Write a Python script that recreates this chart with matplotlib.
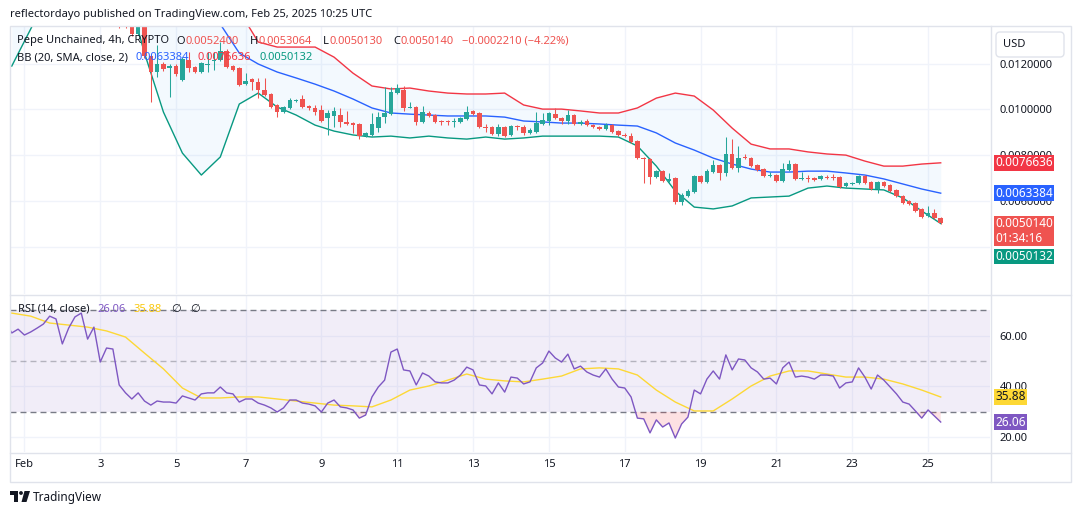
import numpy as np
import matplotlib
matplotlib.use("Agg")
import matplotlib.pyplot as plt
from matplotlib.patches import Rectangle, FancyBboxPatch, Circle, Polygon

plt.rcParams['font.family'] = ['Noto Sans', 'DejaVu Sans']

W, H = 1080, 515

# 4h bars, bar index 0 = Feb 1 00:00 UTC (TradingView bar index, one bar missing before Feb 7)
candle_start = 15
opens = [
    0.01399, 0.01372, 0.01372, 0.01329, 0.01359, 0.01233, 0.01163, 0.01198, 0.01180, 0.01189,
    0.01128, 0.01215, 0.01185, 0.01163, 0.01193, 0.01211, 0.01215, 0.01255, 0.01189, 0.01180,
    0.01110, 0.01132, 0.01119, 0.01084, 0.01067, 0.01019, 0.00988, 0.01006, 0.01036, 0.01045,
    0.01014, 0.01006, 0.00997, 0.00962, 0.00971, 0.00975, 0.00945, 0.00940, 0.00936, 0.00883,
    0.00888, 0.00918, 0.00966, 0.00979, 0.01071, 0.01084, 0.01006, 0.01010, 0.00945, 0.00984,
    0.00975, 0.00949, 0.00949, 0.00945, 0.00945, 0.00958, 0.00993, 0.00984, 0.00923, 0.00923,
    0.00892, 0.00923, 0.00888, 0.00927, 0.00923, 0.00897, 0.00901, 0.00936, 0.00949, 0.00979,
    0.00962, 0.00949, 0.00975, 0.00936, 0.00949, 0.00931, 0.00923, 0.00914, 0.00931, 0.00905,
    0.00888, 0.00883, 0.00862, 0.00787, 0.00783, 0.00704, 0.00730, 0.00687, 0.00700, 0.00595,
    0.00621, 0.00639, 0.00709, 0.00682, 0.00726, 0.00757, 0.00722, 0.00805, 0.00744, 0.00792,
    0.00787, 0.00757, 0.00739, 0.00709, 0.00713, 0.00687, 0.00735, 0.00761, 0.00696, 0.00700,
    0.00700, 0.00696, 0.00704, 0.00704, 0.00704, 0.00665, 0.00674, 0.00678, 0.00709, 0.00682,
    0.00652, 0.00682, 0.00669, 0.00648, 0.00621, 0.00600, 0.00591, 0.00565, 0.00534, 0.00547,
    0.0052400,
]
highs = [
    0.01425, 0.01390, 0.01390, 0.01372, 0.01368, 0.01237, 0.01281, 0.01207, 0.01198, 0.01198,
    0.01228, 0.01250, 0.01189, 0.01207, 0.01250, 0.01250, 0.01294, 0.01263, 0.01193, 0.01185,
    0.01158, 0.01137, 0.01137, 0.01137, 0.01071, 0.01023, 0.01014, 0.01049, 0.01045, 0.01062,
    0.01019, 0.01019, 0.01019, 0.00997, 0.01010, 0.01006, 0.00993, 0.00945, 0.00940, 0.00901,
    0.00984, 0.00988, 0.01097, 0.01097, 0.01110, 0.01102, 0.01032, 0.01014, 0.01014, 0.00993,
    0.00979, 0.00953, 0.00953, 0.00962, 0.00966, 0.01014, 0.00997, 0.00988, 0.00936, 0.00927,
    0.00936, 0.00927, 0.00931, 0.00931, 0.00931, 0.00918, 0.00988, 0.00984, 0.00988, 0.01006,
    0.00966, 0.00997, 0.00979, 0.00953, 0.00958, 0.00936, 0.00927, 0.00940, 0.00936, 0.00910,
    0.00897, 0.00897, 0.00866, 0.00792, 0.00787, 0.00735, 0.00735, 0.00722, 0.00704, 0.00634,
    0.00652, 0.00713, 0.00713, 0.00739, 0.00779, 0.00761, 0.00879, 0.00870, 0.00840, 0.00805,
    0.00792, 0.00761, 0.00744, 0.00726, 0.00717, 0.00765, 0.00779, 0.00765, 0.00726, 0.00713,
    0.00704, 0.00713, 0.00713, 0.00717, 0.00709, 0.00682, 0.00682, 0.00713, 0.00713, 0.00687,
    0.00687, 0.00687, 0.00674, 0.00652, 0.00626, 0.00604, 0.00595, 0.00569, 0.00578, 0.00565,
    0.0053064,
]
lows = [
    0.01355, 0.01355, 0.01320, 0.01324, 0.01224, 0.01032, 0.01141, 0.01167, 0.01054, 0.01145,
    0.01124, 0.01163, 0.01158, 0.01158, 0.01163, 0.01172, 0.01211, 0.01180, 0.01167, 0.01102,
    0.01106, 0.01084, 0.01049, 0.01058, 0.01006, 0.00966, 0.00984, 0.01001, 0.01032, 0.01006,
    0.00997, 0.00975, 0.00945, 0.00888, 0.00923, 0.00923, 0.00931, 0.00897, 0.00870, 0.00879,
    0.00883, 0.00901, 0.00940, 0.00975, 0.01067, 0.00993, 0.01006, 0.00931, 0.00940, 0.00966,
    0.00940, 0.00931, 0.00931, 0.00923, 0.00940, 0.00953, 0.00975, 0.00918, 0.00901, 0.00888,
    0.00883, 0.00879, 0.00883, 0.00910, 0.00888, 0.00892, 0.00897, 0.00931, 0.00931, 0.00958,
    0.00936, 0.00936, 0.00931, 0.00931, 0.00927, 0.00918, 0.00910, 0.00910, 0.00897, 0.00883,
    0.00879, 0.00853, 0.00783, 0.00678, 0.00674, 0.00700, 0.00682, 0.00682, 0.00586, 0.00582,
    0.00617, 0.00634, 0.00678, 0.00678, 0.00722, 0.00691, 0.00709, 0.00739, 0.00726, 0.00783,
    0.00748, 0.00730, 0.00704, 0.00704, 0.00682, 0.00682, 0.00730, 0.00691, 0.00691, 0.00682,
    0.00687, 0.00691, 0.00696, 0.00691, 0.00656, 0.00661, 0.00669, 0.00674, 0.00674, 0.00648,
    0.00634, 0.00661, 0.00639, 0.00617, 0.00586, 0.00582, 0.00551, 0.00525, 0.00530, 0.00521,
    0.0050130,
]
closes = [
    0.01364, 0.01359, 0.01329, 0.01359, 0.01233, 0.01163, 0.01198, 0.01176, 0.01189, 0.01154,
    0.01220, 0.01180, 0.01163, 0.01202, 0.01198, 0.01215, 0.01255, 0.01185, 0.01172, 0.01106,
    0.01124, 0.01119, 0.01084, 0.01062, 0.01010, 0.00988, 0.01010, 0.01041, 0.01041, 0.01010,
    0.01006, 0.00988, 0.00949, 0.00984, 0.00993, 0.00945, 0.00936, 0.00931, 0.00883, 0.00897,
    0.00936, 0.00966, 0.00984, 0.01076, 0.01093, 0.01006, 0.01010, 0.00945, 0.00988, 0.00971,
    0.00945, 0.00945, 0.00945, 0.00949, 0.00962, 0.00988, 0.00979, 0.00923, 0.00918, 0.00892,
    0.00923, 0.00883, 0.00927, 0.00923, 0.00897, 0.00910, 0.00940, 0.00953, 0.00984, 0.00962,
    0.00949, 0.00975, 0.00936, 0.00945, 0.00931, 0.00923, 0.00914, 0.00931, 0.00901, 0.00888,
    0.00883, 0.00857, 0.00787, 0.00783, 0.00704, 0.00730, 0.00687, 0.00696, 0.00595, 0.00626,
    0.00643, 0.00709, 0.00682, 0.00730, 0.00757, 0.00722, 0.00805, 0.00744, 0.00787, 0.00787,
    0.00752, 0.00735, 0.00709, 0.00713, 0.00687, 0.00739, 0.00761, 0.00696, 0.00700, 0.00696,
    0.00691, 0.00709, 0.00700, 0.00700, 0.00661, 0.00678, 0.00678, 0.00709, 0.00678, 0.00652,
    0.00682, 0.00665, 0.00643, 0.00621, 0.00591, 0.00586, 0.00556, 0.00530, 0.00547, 0.005235,
    0.0050140,
]

# Bollinger bands (20, 2), read every 3rd bar starting at bar -2
bb_start, bb_step = -2, 3
bb_upper = [
    0.0200, 0.0205, 0.0210, 0.0215, 0.0218, 0.0220, 0.0220, 0.0222, 0.0225, 0.0225,
    0.0220, 0.0190, 0.0143, 0.01294, 0.01272, 0.01272, 0.01272, 0.01228, 0.01158, 0.01102,
    0.01089, 0.01093, 0.01080, 0.01071, 0.01067, 0.01067, 0.01071, 0.01019, 0.01001, 0.01001,
    0.00993, 0.00984, 0.00984, 0.01006, 0.01049, 0.01071, 0.01058, 0.00997, 0.00918, 0.00848,
    0.00827, 0.00827, 0.00814, 0.00805, 0.00800, 0.00774, 0.00752, 0.00752, 0.00761, 0.0076636,
]
bb_basis = [
    0.0159, 0.0170, 0.0181, 0.0189, 0.0193, 0.0193, 0.0181, 0.0173, 0.0162, 0.0153,
    0.01490, 0.01372, 0.01246, 0.01198, 0.01163, 0.01137, 0.01110, 0.01080, 0.01045, 0.01006,
    0.00984, 0.00979, 0.00975, 0.00971, 0.00971, 0.00971, 0.00966, 0.00949, 0.00945, 0.00940,
    0.00940, 0.00936, 0.00931, 0.00927, 0.00897, 0.00853, 0.00822, 0.00787, 0.00761, 0.00739,
    0.00726, 0.00726, 0.00730, 0.00730, 0.00722, 0.00713, 0.00696, 0.00674, 0.00652, 0.0063384,
]
bb_lower = [
    0.01189, 0.01351, 0.01521, 0.01630, 0.01674, 0.01652, 0.01543, 0.01246, 0.00988, 0.00809,
    0.00713, 0.00792, 0.01023, 0.01071, 0.01010, 0.00975, 0.00931, 0.00905, 0.00888, 0.00879,
    0.00883, 0.00875, 0.00883, 0.00875, 0.00870, 0.00879, 0.00870, 0.00875, 0.00883, 0.00883,
    0.00883, 0.00883, 0.00879, 0.00840, 0.00752, 0.00643, 0.00573, 0.00565, 0.00578, 0.00613,
    0.00617, 0.00621, 0.00656, 0.00665, 0.00656, 0.00652, 0.00648, 0.00613, 0.00556, 0.0050132,
]

# RSI (14) per bar from bar -3, and its moving average every 3rd bar from bar -2
rsi_start = -3
rsi = [
    65.3, 61.0, 62.5, 60.2, 61.4, 62.9, 64.5, 67.6, 66.5, 56.7,
    62.9, 67.3, 68.8, 58.6, 63.3, 49.6, 55.1, 54.7, 40.6, 37.5,
    35.1, 37.5, 34.3, 32.7, 34.3, 33.9, 33.9, 33.5, 36.3, 35.5,
    34.7, 37.1, 37.5, 37.5, 39.8, 37.5, 37.1, 33.9, 35.1, 35.1,
    33.5, 32.7, 31.6, 30.0, 31.6, 34.7, 34.7, 33.5, 33.1, 32.4,
    30.0, 33.5, 34.7, 32.0, 31.6, 30.8, 27.6, 28.8, 35.9, 39.8,
    42.5, 53.5, 54.7, 46.5, 46.1, 40.6, 45.3, 44.1, 41.8, 41.4,
    41.4, 42.5, 44.5, 47.6, 46.5, 40.6, 40.2, 37.1, 41.4, 37.8,
    43.7, 43.3, 41.0, 41.8, 47.3, 49.2, 53.9, 51.2, 49.6, 52.7,
    46.9, 48.0, 45.7, 44.5, 43.7, 46.9, 42.9, 39.8, 39.4, 35.9,
    27.6, 27.3, 21.8, 26.9, 24.1, 25.7, 19.8, 25.3, 28.0, 38.6,
    37.1, 42.9, 46.1, 42.9, 52.4, 46.5, 50.8, 50.4, 47.3, 45.7,
    42.9, 43.3, 41.0, 47.3, 49.6, 43.7, 44.1, 43.7, 42.9, 44.5,
    44.5, 44.1, 39.4, 41.4, 41.8, 47.3, 43.7, 39.0, 44.5, 42.5,
    39.8, 37.1, 33.9, 33.1, 30.4, 27.6, 30.8, 28.4, 26.06,
]
ma_start, ma_step = -2, 3
rsi_ma = [
    68.8, 67.6, 64.9, 64.1, 63.3, 61.8, 59.4, 53.1, 46.9, 39.4,
    35.5, 35.5, 35.9, 35.9, 35.1, 34.3, 33.5, 32.7, 32.4, 32.0,
    34.7, 38.6, 40.2, 42.5, 44.9, 42.9, 42.2, 41.8, 42.9, 44.1,
    46.9, 47.3, 46.9, 44.5, 38.6, 33.9, 30.4, 30.4, 35.1, 40.2,
    44.1, 46.1, 46.1, 44.9, 43.7, 43.7, 42.9, 41.0, 38.6, 35.88,
]

date_bars = [0, 12, 24, 35, 47, 59, 71, 83, 95, 107, 119, 131, 143]
date_labels = ['Feb', '3', '5', '7', '9', '11', '13', '15', '17', '19', '21', '23', '25']
price_ticks = [0.004, 0.006, 0.008, 0.010, 0.012]
rsi_ticks = [20, 40, 60]

UP, DOWN = '#26a69a', '#ef5350'
TXT = '#131722'
LINE = '#e0e3eb'
GRID = '#f0f3fa'
FS = 8

fig = plt.figure(figsize=(W / 100, H / 100), dpi=100)
fig.patch.set_facecolor('white')

ax = fig.add_axes([10 / W, 1 - 294 / H, 980 / W, 268 / H])
ax2 = fig.add_axes([10 / W, 1 - 452 / H, 980 / W, 157 / H])

for a in (ax, ax2):
    a.set_xlim(-2.28, 152.8)
    for s in a.spines.values():
        s.set_visible(False)
    a.set_xticks(date_bars)
    a.grid(True, color=GRID, lw=1)
    a.set_axisbelow(True)
    a.yaxis.tick_right()
    a.tick_params(axis='y', length=0, pad=7, labelsize=FS, labelcolor=TXT)

# ---- price pane ----
ax.set_ylim(0.001934, 0.01364)
ax.set_yticks(price_ticks)
# 0.004 sits behind the last-price labels in the original
ax.set_yticklabels(['' if t < 0.005 else f'{t:.7f}' for t in price_ticks])
ax.tick_params(axis='x', length=0, labelbottom=False)

bx = bb_start + bb_step * np.arange(len(bb_upper))
ax.fill_between(bx, bb_lower, bb_upper, color='#2196f3', alpha=0.05, lw=0, zorder=1)
ax.plot(bx, bb_upper, color='#f23645', lw=1, zorder=2)
ax.plot(bx, bb_basis, color='#2962ff', lw=1, zorder=2)
ax.plot(bx, bb_lower, color='#089981', lw=1, zorder=2)

o, h, l, c = map(np.array, (opens, highs, lows, closes))
idx = np.arange(candle_start, candle_start + len(c))
col = np.where(c >= o, UP, DOWN)
ax.vlines(idx, l, h, colors=col, lw=0.75, zorder=4)
ax.bar(idx, np.maximum(np.abs(c - o), 0.00003), bottom=np.minimum(o, c),
       width=0.72, color=col, lw=0, zorder=5)


def scale_box(a, y, text, fc, tc='white', dy=0, va='center', pad=0.1):
    a.annotate(text, xy=(1, y), xycoords=('axes fraction', 'data'),
               xytext=(5, dy), textcoords='offset pixels', ha='left', va=va,
               color=tc, fontsize=8.5, annotation_clip=False, zorder=20, linespacing=1.15,
               bbox=dict(boxstyle=f'square,pad={pad}', fc=fc, ec='none'))


scale_box(ax, bb_upper[-1], f'{bb_upper[-1]:.7f}', '#f23645')
scale_box(ax, bb_basis[-1], f'{bb_basis[-1]:.7f}', '#2962ff')
scale_box(ax, closes[-1], f'{closes[-1]:.7f}\n01:34:16', DOWN, dy=6, va='top', pad=0.12)
scale_box(ax, bb_lower[-1], f'{bb_lower[-1]:.7f}', '#089981', dy=-33)

# ---- RSI pane ----
ax2.set_ylim(14.3, 75.9)
ax2.set_yticks(rsi_ticks)
ax2.set_yticklabels([f'{t:.2f}' for t in rsi_ticks])
ax2.set_xticks(date_bars, date_labels)
ax2.tick_params(axis='x', length=0, pad=5, labelsize=FS, labelcolor=TXT)

ax2.axhspan(30, 70, color='#7e57c2', alpha=0.1, lw=0, zorder=1)
dash = (0, (4.3, 2.9))
ax2.axhline(70, color='#787b86', lw=1, ls=dash, zorder=2)
ax2.axhline(50, color='#787b86', lw=1, ls=dash, alpha=0.5, zorder=2)
ax2.axhline(30, color='#787b86', lw=1, ls=dash, zorder=2)

rx = rsi_start + np.arange(len(rsi))
r = np.array(rsi)
ax2.fill_between(rx, r, 30, where=r < 30, interpolate=True, color='#f23645', alpha=0.15, lw=0, zorder=2)
mx = ma_start + ma_step * np.arange(len(rsi_ma))
ax2.plot(mx, rsi_ma, color='#fdd835', lw=1, zorder=3)
ax2.plot(rx, rsi, color='#7e57c2', lw=1, zorder=4)

scale_box(ax2, rsi_ma[-1], f'{rsi_ma[-1]:.2f}', '#fdd835', tc=TXT)
scale_box(ax2, rsi[-1], f'{rsi[-1]:.2f}', '#7e57c2')

# ---- overlay in pixel coordinates: frame, legends, header, logo ----
ov = fig.add_axes([0, 0, 1, 1])
ov.set_xlim(0, W)
ov.set_ylim(H, 0)
ov.set_axis_off()

ov.add_patch(Rectangle((9.5, 25.5), 1061, 456, fill=False, ec=LINE, lw=1))
ov.plot([990.5, 990.5], [25.5, 481.5], color=LINE, lw=1)
ov.plot([9.5, 1070.5], [294.5, 294.5], color=LINE, lw=1)
ov.plot([9.5, 1070.5], [452.5, 452.5], color=LINE, lw=1)
ov.add_patch(FancyBboxPatch((996, 32), 68, 25, boxstyle='round,pad=0,rounding_size=4',
                            fc='white', ec=LINE, lw=1, zorder=5))
ov.text(1003, 44.5, 'USD', fontsize=FS, color=TXT, va='center', zorder=6)

ov.text(10, 14, 'reflectordayo published on TradingView.com, Feb 25, 2025 10:25 UTC',
        fontsize=8, color=TXT, va='center')

renderer = fig.canvas.get_renderer()


def chain(x, y, parts):
    # parts: (text, colour, gap after)
    for s, color, gap in parts:
        kw = {'family': ['DejaVu Sans']} if s == '\u2205' else {}
        t = ov.text(x, y, s, fontsize=FS, color=color, va='center', **kw)
        x += t.get_window_extent(renderer=renderer).width + gap


chg = closes[-1] - closes[-2]
pct = chg / closes[-2] * 100
chain(17, 41, [
    ('Pepe Unchained, 4h, CRYPTO', TXT, 7),
    ('O', TXT, 0.5), (f'{opens[-1]:.7f}', DOWN, 11),
    ('H', TXT, 0.5), (f'{highs[-1]:.7f}', DOWN, 11),
    ('L', TXT, 0.5), (f'{lows[-1]:.7f}', DOWN, 11),
    ('C', TXT, 0.5), (f'{closes[-1]:.7f}', DOWN, 8),
    (f'{chg:.7f} ({pct:.2f}%)'.replace('-', '\u2212'), DOWN, 0),
])
chain(17, 58, [
    ('BB (20, SMA, close, 2)', TXT, 8),
    (f'{bb_basis[-1]:.7f}', '#2962ff', 8),
    (f'{bb_upper[-1]:.7f}', '#f23645', 8),
    (f'{bb_lower[-1]:.7f}', '#089981', 0),
])
chain(18, 309, [
    ('RSI (14, close)', TXT, 8),
    (f'{rsi[-1]:.2f}', '#7e57c2', 8),
    (f'{rsi_ma[-1]:.2f}', '#f9c80e', 9),
    ('\u2205', TXT, 9),
    ('\u2205', TXT, 0),
])

# TradingView logo
ov.add_patch(Rectangle((10, 491), 8, 3.5, fc=TXT, ec='none'))
ov.add_patch(Rectangle((14.2, 491), 3.8, 11, fc=TXT, ec='none'))
ov.add_patch(Circle((21, 493), 1.9, fc=TXT, ec='none'))
ov.add_patch(Polygon([(24.5, 491), (30, 491), (26.5, 502), (21.5, 502)], closed=True, fc=TXT, ec='none'))
ov.text(33, 497, 'TradingView', fontsize=8.5, color=TXT, va='center', fontweight='semibold')

fig.savefig('out.png', dpi=100, facecolor='white')
